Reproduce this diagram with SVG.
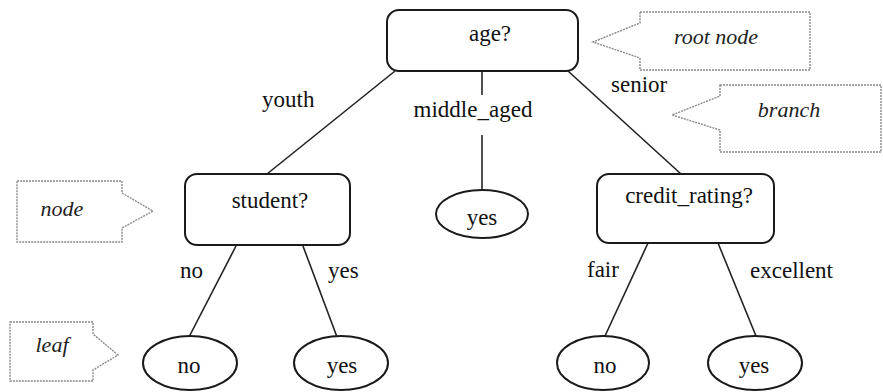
<svg xmlns="http://www.w3.org/2000/svg" width="883" height="392" viewBox="0 0 883 392" font-family="'Liberation Serif', 'DejaVu Serif', 'Times New Roman', serif">
  <style>
    .box { fill: #fff; stroke: #1a1a1a; stroke-width: 2; }
    .leaf { fill: #fff; stroke: #1a1a1a; stroke-width: 2; }
    .edge { stroke: #222; stroke-width: 1.6; fill: none; }
    text { font-family: 'Liberation Serif', 'DejaVu Serif', 'Times New Roman', serif; }
    .txt { font-size: 23px; fill: #111; }
    .mid { text-anchor: middle; }
    .note { fill: #fff; stroke: #8a8a8a; stroke-width: 1.4; stroke-dasharray: 2 1; }
    .ital { font-size: 22px; font-style: italic; fill: #222; text-anchor: middle; }
  </style>

  <rect width="883" height="392" fill="#fff"/>

  <!-- connectors -->
  <g id="connectors">
    <line class="edge" x1="395" y1="71" x2="267" y2="174"/>
    <line class="edge" x1="482" y1="71" x2="482" y2="95"/>
    <line class="edge" x1="482" y1="135" x2="482" y2="190"/>
    <line class="edge" x1="568" y1="71" x2="681" y2="174"/>
    <line class="edge" x1="236" y1="246" x2="189" y2="337"/>
    <line class="edge" x1="303" y1="246" x2="337" y2="337"/>
    <line class="edge" x1="648" y1="243" x2="605" y2="336"/>
    <line class="edge" x1="718" y1="243" x2="756" y2="336"/>
    <text class="txt" x="262" y="107">youth</text>
    <text class="txt mid" x="473" y="117">middle_aged</text>
    <text class="txt" x="611" y="92">senior</text>
    <text class="txt" x="180" y="278">no</text>
    <text class="txt" x="328" y="278">yes</text>
    <text class="txt" x="587" y="277">fair</text>
    <text class="txt" x="750" y="278">excellent</text>
  </g>

  <!-- decision nodes -->
  <g id="node-age">
    <rect class="box" x="387" y="10" width="191" height="61" rx="12"/>
    <text class="txt mid" x="490" y="41">age?</text>
  </g>
  <g id="node-student">
    <rect class="box" x="185" y="174" width="165" height="71" rx="12"/>
    <text class="txt mid" x="270" y="208">student?</text>
  </g>
  <g id="node-credit">
    <rect class="box" x="597" y="174" width="177" height="69" rx="12"/>
    <text class="txt mid" x="689" y="203">credit_rating?</text>
  </g>

  <!-- leaves -->
  <g id="leaf-middle-yes">
    <ellipse class="leaf" cx="482" cy="214" rx="46" ry="24"/>
    <text class="txt mid" x="482" y="225">yes</text>
  </g>
  <g id="leaf-student-no">
    <ellipse class="leaf" cx="190" cy="363" rx="47" ry="27"/>
    <text class="txt mid" x="189" y="373">no</text>
  </g>
  <g id="leaf-student-yes">
    <ellipse class="leaf" cx="341" cy="363" rx="47" ry="27"/>
    <text class="txt mid" x="342" y="373">yes</text>
  </g>
  <g id="leaf-credit-no">
    <ellipse class="leaf" cx="603" cy="363" rx="46" ry="27"/>
    <text class="txt mid" x="605" y="373">no</text>
  </g>
  <g id="leaf-credit-yes">
    <ellipse class="leaf" cx="755" cy="363" rx="47" ry="27"/>
    <text class="txt mid" x="754" y="373">yes</text>
  </g>

  <!-- annotation callouts -->
  <g id="callout-root">
    <polygon class="note" points="640,12 810,12 810,70 640,70 640,58 593,42 640,23"/>
    <text class="ital" x="716" y="44">root node</text>
  </g>
  <g id="callout-branch">
    <polygon class="note" points="720,85 881,85 881,152 720,152 720,130 672,115 720,96"/>
    <text class="ital" x="789" y="117">branch</text>
  </g>
  <g id="callout-node">
    <polygon class="note" points="17,181 122,181 122,193 153,211 122,228 122,242 17,242"/>
    <text class="ital" x="62" y="216">node</text>
  </g>
  <g id="callout-leaf">
    <polygon class="note" points="10,322 93,322 93,334 118,355 93,370 93,381 10,381"/>
    <text class="ital" x="52" y="352">leaf</text>
  </g>
</svg>
